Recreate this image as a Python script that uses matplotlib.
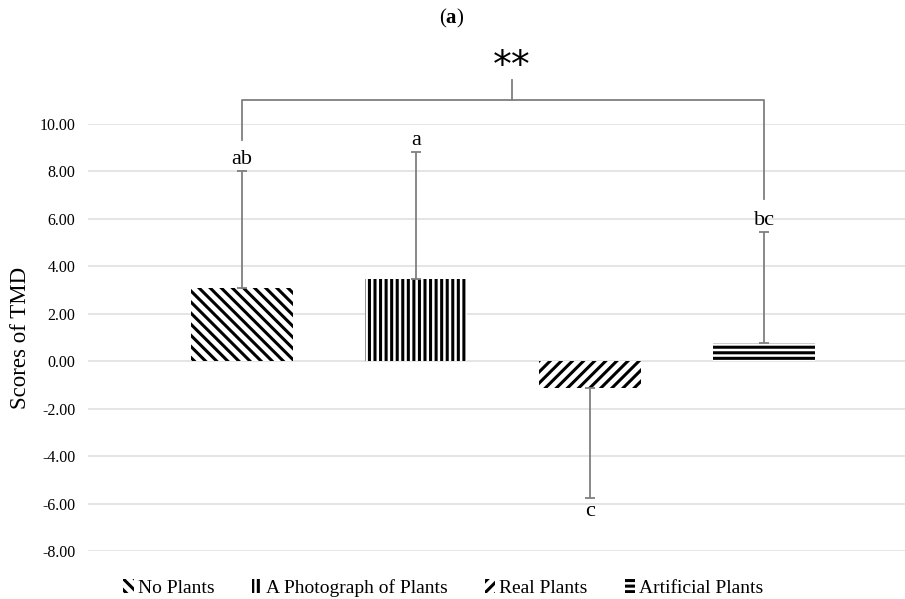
import matplotlib
matplotlib.use("Agg")
import matplotlib.pyplot as plt
import numpy as np

categories = ["No Plants", "A Photograph of Plants", "Real Plants", "Artificial Plants"]
means = [3.08, 3.46, -1.14, 0.76]
sds = [4.94, 5.36, 4.64, 4.68]
letters = ["ab", "a", "c", "bc"]
hatches = ["\\\\\\", "|||", "///", "---"]
yticks = [-8, -6, -4, -2, 0, 2, 4, 6, 8, 10]

plt.rcParams['hatch.linewidth'] = 2.2
plt.rcParams['mathtext.fontset'] = 'custom'
plt.rcParams['mathtext.rm'] = 'Liberation Serif'
plt.rcParams['mathtext.bf'] = 'Liberation Serif:bold'
serif = ['Liberation Serif', 'DejaVu Serif']

fig = plt.figure(figsize=(9.05, 5.99), dpi=100)
ax = fig.add_axes([88/905, (599-551)/599, 1-88/905, (551-124)/599])

x = np.arange(len(categories))
bars = []
for i in range(len(categories)):
    b = ax.bar(x[i], means[i], width=0.59, color='white', edgecolor='black',
               linewidth=0, hatch=hatches[i], label=categories[i], zorder=3)
    bars.append(b)
    if means[i] >= 0:
        yerr = [[0], [sds[i]]]
    else:
        yerr = [[sds[i]], [0]]
    ax.errorbar(x[i], means[i], yerr=yerr, fmt='none', ecolor='#7f7f7f',
                elinewidth=1.3, capsize=3.5, capthick=1.3, zorder=4)

# letters
for i in range(len(categories)):
    if means[i] >= 0:
        ty = means[i] + sds[i] + 0.1
        va = 'bottom'
    else:
        ty = means[i] - sds[i] - 0.15
        va = 'top'
    ax.text(x[i], ty, letters[i], ha='center', va=va, fontsize=16,
            family=serif, zorder=5)

ax.set_xlim(-0.885, 3.81)
ax.set_ylim(-8, 10)
ax.set_yticks(yticks)
ax.set_yticklabels([f"{v:.2f}" for v in yticks], family=serif, fontsize=11.5)
ax.tick_params(axis='y', length=0, pad=9)
ax.set_xticks([])
for s in ax.spines.values():
    s.set_visible(False)
ax.grid(axis='y', color='#e0e0e0', linewidth=1.2, zorder=0)
ax.set_axisbelow(True)
ax.set_ylabel("Scores of TMD", family=serif, fontsize=16.5, labelpad=6)

# significance bracket
bx = [0, 0, 3, 3]
by = [9.32, 11.01, 11.01, 6.84]
ax.plot(bx, by, color='#7f7f7f', linewidth=1.3, clip_on=False, zorder=5)
ax.plot([1.552, 1.552], [11.01, 11.86], color='#7f7f7f', linewidth=1.3,
        clip_on=False, zorder=5)
ax.text(1.552, 12.4, "**", ha='center', va='center', fontsize=27,
        family=['DejaVu Sans'])

fig.text(452/905, 1-18/599, r"($\mathbf{a}$)", ha='center', va='center',
         fontsize=15, family=serif)

leg = fig.legend(handles=[b for b in bars], labels=categories, loc='center',
                 bbox_to_anchor=(0.49, 1-588/599), ncol=4, frameon=False,
                 prop={'family': serif, 'size': 14}, handlelength=0.55,
                 handleheight=0.7, handletextpad=0.2, columnspacing=1.9)

fig.savefig("out.png", dpi=100)
